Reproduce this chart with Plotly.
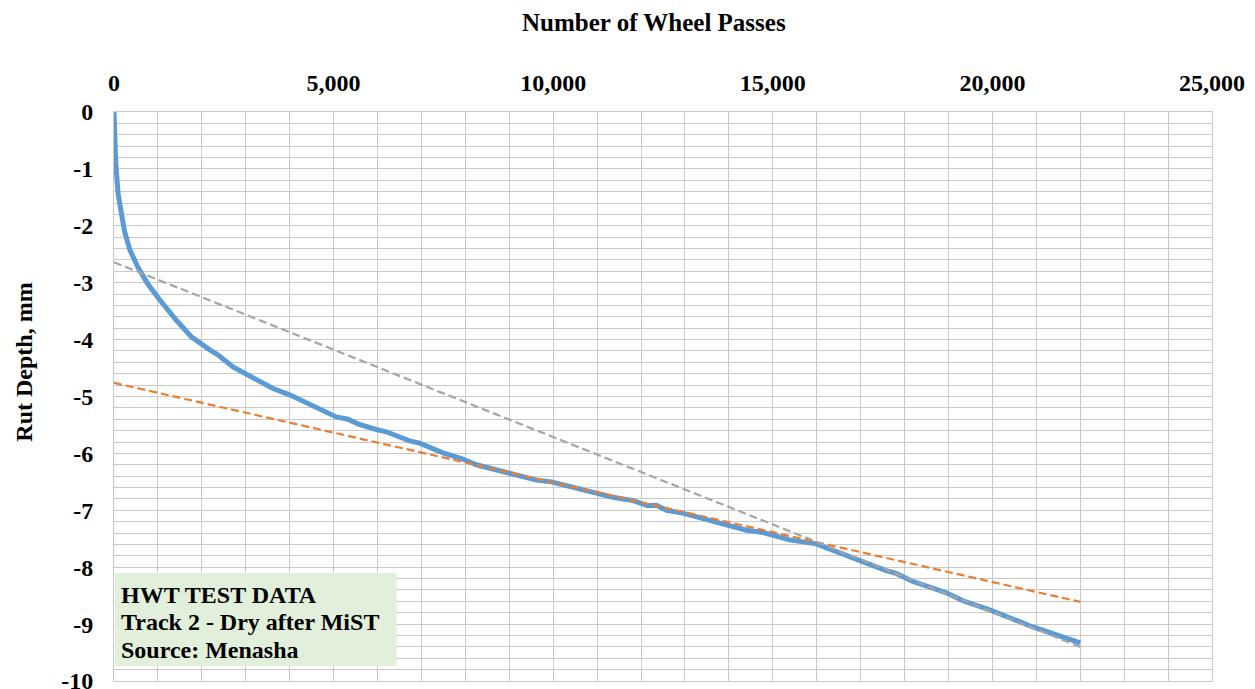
import plotly.graph_objects as go

# Measured rut depth vs. wheel passes (Hamburg wheel tracking, Track 2)
passes = [0, 10, 40, 95, 160, 240, 360, 540, 760, 1000, 1420, 1760, 2180, 2370,
          2710, 3010, 3620, 4000, 4230, 4600, 5060, 5330, 5550, 5970, 6200, 6730,
          6960, 7490, 7910, 8250, 8550, 9010, 9390, 9620, 9960, 10300, 10980,
          11360, 11820, 12160, 12350, 12580, 12950, 13490, 14020, 14400, 14780,
          15380, 15990, 16450, 16980, 17280, 17580, 17810, 18190, 18650, 18950,
          19330, 19710, 19940, 20920, 21500, 22000]
rut_depth = [0, -0.40, -0.90, -1.45, -1.75, -2.10, -2.42, -2.72, -3.01, -3.26,
             -3.66, -3.95, -4.18, -4.27, -4.48, -4.60, -4.86, -4.97, -5.05, -5.18,
             -5.36, -5.40, -5.48, -5.58, -5.62, -5.78, -5.82, -5.99, -6.09, -6.20,
             -6.26, -6.35, -6.42, -6.47, -6.50, -6.57, -6.69, -6.77, -6.83, -6.92,
             -6.91, -7.00, -7.05, -7.16, -7.26, -7.35, -7.39, -7.52, -7.59, -7.73,
             -7.89, -7.96, -8.06, -8.11, -8.25, -8.37, -8.45, -8.59, -8.68, -8.75,
             -9.05, -9.19, -9.33]

# Linear trendlines (end points over the tested range)
trend_passes = [0, 22000]
trend_creep = [-4.76, -8.61]      # creep-slope fit
trend_strip = [-2.64, -9.40]      # stripping-slope fit

# Axis ticks
x_tick_vals = [0, 5000, 10000, 15000, 20000, 25000]
x_tick_text = ["0", "5,000", "10,000", "15,000", "20,000", "25,000"]
y_tick_vals = [0, -1, -2, -3, -4, -5, -6, -7, -8, -9, -10]
y_tick_text = ["0", "-1", "-2", "-3", "-4", "-5", "-6", "-7", "-8", "-9", "-10"]

note_lines = ["HWT TEST DATA", "Track 2 - Dry after MiST", "Source: Menasha"]

FONT = "Times New Roman, Liberation Serif, serif"
GRID = "#c9c9c9"

fig = go.Figure()
fig.add_trace(go.Scatter(x=passes, y=rut_depth, mode="lines",
                         line=dict(color="#5b9bd5", width=5),
                         hoverinfo="x+y", showlegend=False))
fig.add_trace(go.Scatter(x=trend_passes, y=trend_creep, mode="lines",
                         line=dict(color="#ed7d31", width=2.2, dash="8px,4px"),
                         showlegend=False))
fig.add_trace(go.Scatter(x=trend_passes, y=trend_strip, mode="lines",
                         line=dict(color="#a5a5a5", width=2.2, dash="8px,4px"),
                         showlegend=False))

tick_font = dict(family=FONT, size=24, color="black", weight="bold")

fig.update_xaxes(range=[0, 25000], side="top", tickvals=x_tick_vals,
                 ticktext=["<b>%s</b>" % t for t in x_tick_text],
                 showgrid=True, gridcolor=GRID, gridwidth=1,
                 minor=dict(dtick=1000, showgrid=True, gridcolor=GRID, gridwidth=1),
                 showline=True, linecolor=GRID, linewidth=1, mirror=True,
                 zeroline=False, ticks="", ticklabelstandoff=10, automargin=False,
                 ticklabeloverflow="allow", tickfont=tick_font)
fig.update_yaxes(range=[-10, 0], tickvals=y_tick_vals,
                 ticktext=["<b>%s</b>" % t for t in y_tick_text],
                 showgrid=True, gridcolor=GRID, gridwidth=1,
                 minor=dict(dtick=0.2, showgrid=True, gridcolor=GRID, gridwidth=1),
                 showline=True, linecolor=GRID, linewidth=1, mirror=True,
                 zeroline=False, ticks="", ticklabelstandoff=15, automargin=False,
                 ticklabeloverflow="allow", tickfont=tick_font)

# Data source box
fig.add_shape(type="rect", xref="paper", yref="paper", x0=0.001, x1=0.2574,
              y0=0.0264, y1=0.19, fillcolor="#e2efda", line=dict(width=0), layer="above")
for i, line in enumerate(note_lines):
    fig.add_annotation(xref="paper", yref="paper", x=0.0045, y=0.152 - i * 0.049,
                       xanchor="left", yanchor="middle", showarrow=False, text=line,
                       font=dict(family=FONT, size=24, color="black", weight="bold"))

# Axis titles
fig.add_annotation(xref="paper", yref="paper", x=0.4919, y=1.158, showarrow=False,
                   text="Number of Wheel Passes", xanchor="center", yanchor="middle",
                   font=dict(family=FONT, size=25, color="black", weight="bold"))
fig.add_annotation(xref="paper", yref="paper", x=-0.0823, y=0.5606, showarrow=False,
                   text="Rut Depth, mm", textangle=-90, xanchor="center", yanchor="middle",
                   font=dict(family=FONT, size=24, color="black", weight="bold"))

fig.update_layout(width=1255, height=689, margin=dict(l=114, r=43, t=112, b=8, autoexpand=False),
                  plot_bgcolor="white", paper_bgcolor="white", showlegend=False)

fig.write_html("out.html")
